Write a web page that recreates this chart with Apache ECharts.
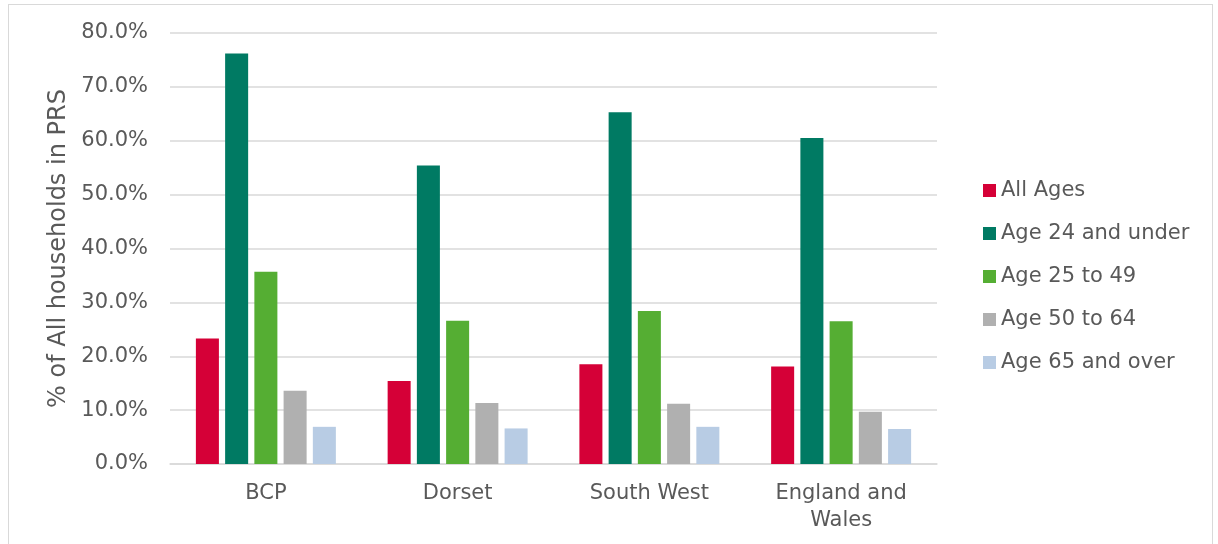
<!DOCTYPE html>
<html>
<head>
<meta charset="utf-8">
<script src="https://cdn.jsdelivr.net/npm/echarts@6/dist/echarts.min.js"></script>
<style>
    html, body {margin: 0; padding: 0; background: #fff;}
    #frame {position: absolute; left: 8px; top: 4px; width: 1205px; height: 560px; border: 1px solid #d9d9d9; box-sizing: border-box;}
    #chart {width: 1218px; height: 544px;}
</style>
</head>
<body>
<div id="frame"></div>
<div id="chart"></div>
<script>
var areas = ['BCP', 'Dorset', 'South West', 'England and\nWales'];
var allAges = [23.3, 15.4, 18.5, 18.1];
var age24Under = [76.2, 55.4, 65.3, 60.5];
var age25to49 = [35.7, 26.6, 28.4, 26.5];
var age50to64 = [13.6, 11.3, 11.2, 9.7];
var age65Over = [6.9, 6.6, 6.9, 6.5];
var seriesNames = ['All Ages', 'Age 24 and under', 'Age 25 to 49', 'Age 50 to 64', 'Age 65 and over'];
var seriesColors = ['#d50037', '#007a63', '#55ae33', '#b0b0b0', '#b8cce4'];
var seriesData = [allAges, age24Under, age25to49, age50to64, age65Over];

var txt = '#595959';
var font = 'DejaVu Sans, Liberation Sans, sans-serif';

var series = [];
for (var i = 0; i < seriesNames.length; i++) {
    series.push({
        name: seriesNames[i],
        type: 'bar',
        barGap: '27%',
        barCategoryGap: '27%',
        itemStyle: {color: seriesColors[i]},
        data: seriesData[i]
    });
}

var chart = echarts.init(document.getElementById('chart'));
chart.setOption({
    animation: false,
    textStyle: {fontFamily: font},
    grid: {left: 170, right: 281, top: 33, bottom: 80},
    legend: {
        orient: 'vertical',
        left: 978,
        top: 175,
        itemWidth: 13,
        itemHeight: 13,
        itemGap: 22,
        itemTextGap: 5,
        icon: 'rect',
        textStyle: {color: txt, fontSize: 21, fontFamily: font},
        data: seriesNames
    },
    xAxis: {
        type: 'category',
        data: areas,
        axisLine: {lineStyle: {color: '#d9d9d9', width: 1.5}},
        axisTick: {show: false},
        axisLabel: {color: txt, fontSize: 21, fontFamily: font, margin: 16, lineHeight: 27}
    },
    yAxis: {
        type: 'value',
        min: 0,
        max: 80,
        interval: 10,
        name: '% of All households in PRS',
        nameLocation: 'middle',
        nameGap: 96,
        nameTextStyle: {color: txt, fontSize: 24, fontFamily: font},
        axisLine: {show: false},
        axisTick: {show: false},
        splitLine: {lineStyle: {color: '#d9d9d9', width: 1.5}},
        axisLabel: {
            color: txt, fontSize: 21, fontFamily: font, margin: 22,
            formatter: function (v) { return v.toFixed(1) + '%'; }
        }
    },
    series: series
});
</script>
</body>
</html>
